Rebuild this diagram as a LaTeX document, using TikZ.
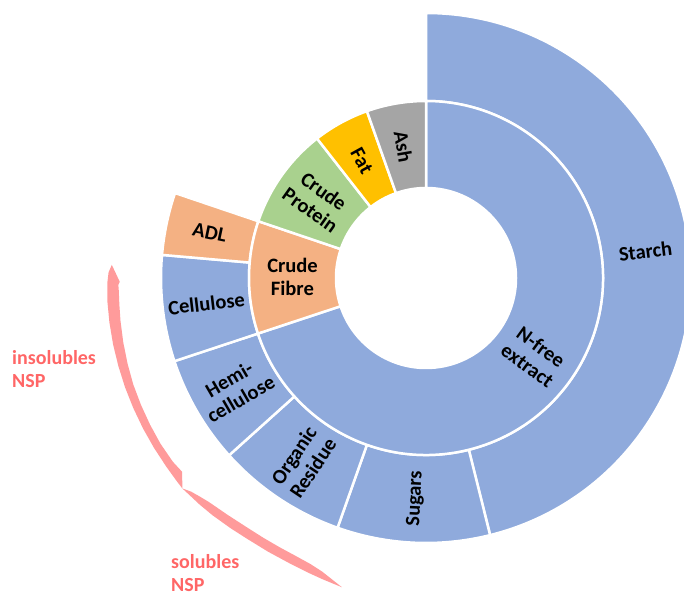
\documentclass[tikz,border=0pt]{standalone}
\usepackage{fontspec}
\setmainfont{Carlito}
\usetikzlibrary{calc}
\definecolor{nblue}{HTML}{8FAADC}
\definecolor{norange}{HTML}{F4B183}
\definecolor{ngreen}{HTML}{A9D18E}
\definecolor{ngold}{HTML}{FFC000}
\definecolor{ngray}{HTML}{A5A5A5}
\definecolor{nspred}{HTML}{FF6666}
\definecolor{bracered}{HTML}{FF9B9B}
\newcommand\sunsector[5]{%
  \fill[#5, seg] ($(C)+(#1:#4)$) arc[start angle=#1, end angle=#2, radius=#4]
     -- ($(C)+(#2:#3)$) arc[start angle=#2, end angle=#1, radius=#3] -- cycle;}
\begin{document}
\begin{tikzpicture}[x=1pt,y=1pt,
  seg/.style={draw=white, line width=2.5pt, line join=round},
  lab/.style={font=\bfseries\fontsize{20.5}{23}\selectfont, align=center, inner sep=0pt, text=black},
  nsp/.style={font=\bfseries\fontsize{20}{23}\selectfont, align=left, inner sep=0pt, text=nspred, anchor=west},
  bracepiece/.style={fill=bracered, draw=none}]
\useasboundingbox (0,0) rectangle (684,593);
\clip (0,0) rectangle (684,593);
\coordinate (C) at (426,315);
% outer ring
\sunsector{-76}{90}{177}{265}{nblue}
\sunsector{250.5}{284}{177}{265}{nblue}
\sunsector{222}{250.5}{177}{265}{nblue}
\sunsector{198.3}{222}{177}{265}{nblue}
\sunsector{175}{198.3}{177}{265}{nblue}
\sunsector{161.3}{175}{177}{265}{norange}
% inner ring
\sunsector{-161.7}{90}{90}{177}{nblue}
\sunsector{161.3}{198.3}{90}{177}{norange}
\sunsector{128}{161.3}{90}{177}{ngreen}
\sunsector{109.5}{128}{90}{177}{ngold}
\sunsector{90}{109.5}{90}{177}{ngray}
% labels outer
\node[lab, rotate=7] (starch) at ($(C)+(7:221)$) {Starch};
\node[lab, rotate=87.25] (sugars) at ($(C)+(267.25:221)$) {Sugars};
\node[lab, rotate=56.25] (organic) at ($(C)+(236.25:221)$) {Organic\\Residue};
\node[lab, rotate=30.15] (hemi) at ($(C)+(210.15:221)$) {Hemi-\\cellulose};
\node[lab, rotate=6.65] (cellulose) at ($(C)+(186.65:221)$) {Cellulose};
\node[lab, rotate=-11.85] (adl) at ($(C)+(168.15:221)$) {ADL};
% labels inner
\node[lab, rotate=-35.85] (nfree) at ($(C)+(-35.85:133.5)$) {N-free\\extract};
\node[lab, rotate=-0.35] (fibre) at ($(C)+(179.65:133.5)$) {Crude\\Fibre};
\node[lab, rotate=-35.35] (protein) at ($(C)+(144.65:133.5)$) {Crude\\Protein};
\node[lab, rotate=-61.25] (fat) at ($(C)+(118.75:133.5)$) {Fat};
\node[lab, rotate=-80.25] (ash) at ($(C)+(99.75:133.5)$) {Ash};
% braces
\begin{scope}[shift={(426,315)}]
\fill[bracepiece] (177.6:314.5) -- (179:317.5) -- (181:318.8) -- (184:319.5) -- (188:319.7)
  -- (192:319.9) -- (196:320) -- (200:320.2) -- (204:320.3) -- (208:320.5) -- (212:320.7)
  -- (216:321) -- (219:321.5) -- (220.8:322)
  -- (218.5:311.5) -- (216:312.8) -- (212:313) -- (208:312.5) -- (204:312) -- (200:311.5)
  -- (196:310.5) -- (192:309.5) -- (188:308.5) -- (185:307.8) -- (182:307.5) -- (181.3:307.8)
  -- (180.7:306.3) -- cycle;
\fill[bracepiece] (220.8:322) -- (222:321.3) -- (225:320.3) -- (228:319.2) -- (232:317.5)
  -- (235.5:316.3) -- (240:316) -- (244.5:316.3) -- (248:317.3) -- (251:318.5) -- (254.8:320.5)
  -- (250.5:311.4) -- (248:308.5) -- (245:307) -- (241.6:306.5) -- (238:306.5) -- (234.4:307)
  -- (230:309) -- (227:311) -- (225.8:312.1) -- (224.1:314.4) -- (222.3:317.5) -- cycle;
\end{scope}
\node[nsp] (insol) at (12,224) {insolubles\\NSP};
\node[nsp] (sol) at (171,20) {solubles\\NSP};
\end{tikzpicture}
\end{document}
